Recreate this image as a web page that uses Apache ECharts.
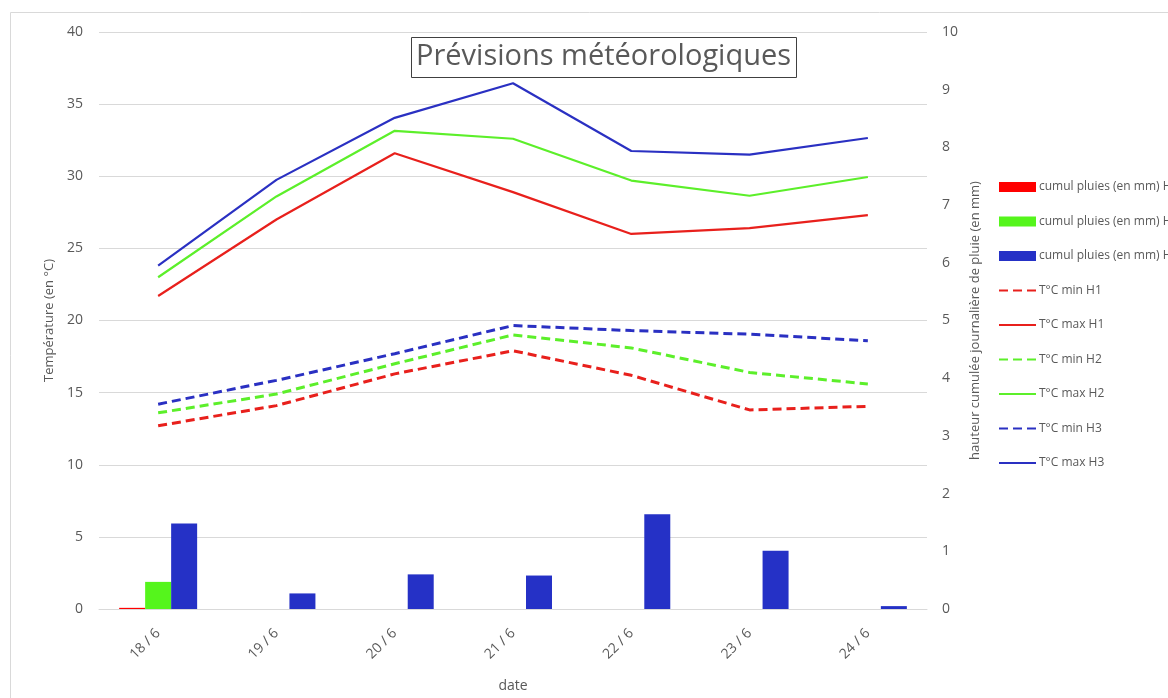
<!DOCTYPE html>
<html><head><meta charset="utf-8">
<script src="https://cdn.jsdelivr.net/npm/echarts@6/dist/echarts.min.js"></script>
<style>html,body{margin:0;padding:0;background:#fff}#c{width:1168px;height:698px}</style>
</head><body><div id="c"></div>
<script>
const categories = ["18 / 6","19 / 6","20 / 6","21 / 6","22 / 6","23 / 6","24 / 6"];
const pluieH1 = [0.02, 0, 0, 0, 0, 0, 0];
const pluieH2 = [0.47, 0, 0, 0, 0, 0, 0];
const pluieH3 = [1.48, 0.27, 0.6, 0.58, 1.64, 1.01, 0.05];
const tminH1 = [12.7, 14.1, 16.3, 17.9, 16.2, 13.8, 14.05];
const tmaxH1 = [21.7, 27.0, 31.6, 28.9, 26.0, 26.4, 27.3];
const tminH2 = [13.6, 14.9, 17.0, 19.0, 18.1, 16.4, 15.6];
const tmaxH2 = [23.0, 28.6, 33.15, 32.6, 29.7, 28.65, 29.95];
const tminH3 = [14.2, 15.85, 17.7, 19.65, 19.3, 19.05, 18.6];
const tmaxH3 = [23.8, 29.75, 34.05, 36.45, 31.75, 31.5, 32.65];
const leftTicks = {min:0, max:40, interval:5};
const rightTicks = {min:0, max:10, interval:1};
const barNames = ['cumul pluies (en mm) H1','cumul pluies (en mm) H2','cumul pluies (en mm) H3'];
const lineNames = ['T°C min H1','T°C max H1','T°C min H2','T°C max H2','T°C min H3','T°C max H3'];

const RED='#e8201c', GREEN='#5cef2a', BLUE='#2a30c2';
const txt='#595959';
const font='"Open Sans", "Noto Sans", sans-serif';
function line(name, data, color, dashed){
  return {name, type:'line', yAxisIndex:0, data, symbol:'none', smooth:false,
    lineStyle:{color, width: dashed?3:2.2, type: dashed?[9,5]:'solid'}, itemStyle:{color}, z:3};
}
function bar(name, data, color){
  return {name, type:'bar', yAxisIndex:1, data, barWidth:26, barGap:'0%', itemStyle:{color}, z:2};
}
const legendData = barNames.map(n=>({name:n, icon:'rect'})).concat(lineNames.map(n=>({name:n, itemStyle:{opacity:0}})));
const chart = echarts.init(document.getElementById('c'));
chart.setOption({
  animation:false,
  textStyle:{fontFamily:font},
  graphic:[{type:'rect', shape:{x:10.5,y:12.5,width:1200,height:720}, style:{fill:'none', stroke:'#d9d9d9', lineWidth:1}, silent:true, z:-10}],
  title:{text:'Prévisions météorologiques', left:411, top:37, borderColor:'#404040', borderWidth:1, padding:[5,6,7,5],
    textStyle:{fontSize:29, fontWeight:'normal', color:txt, fontFamily:font}},
  legend:{orient:'vertical', left:993, top:176, itemGap:22.5, itemWidth:37, itemHeight:10,
    textStyle:{color:txt, fontSize:12, fontFamily:font, padding:[0,0,0,-2]},
    data:legendData},
  grid:{left:99, right:241, top:32, bottom:88, containLabel:false},
  xAxis:{type:'category', data:categories, name:'date', nameLocation:'middle', nameGap:70,
    nameTextStyle:{color:txt, fontSize:14},
    axisLine:{lineStyle:{color:'#d9d9d9'}}, axisTick:{show:false},
    axisLabel:{rotate:45, color:txt, fontSize:14, margin:22}},
  yAxis:[
    {type:'value', min:leftTicks.min, max:leftTicks.max, interval:leftTicks.interval, name:'Température (en °C)', nameLocation:'middle', nameGap:29,
      nameTextStyle:{color:txt, fontSize:13}, axisLabel:{color:txt, fontSize:14, margin:16},
      axisLine:{show:false}, axisTick:{show:false}, splitLine:{lineStyle:{color:'#d9d9d9'}}},
    {type:'value', min:rightTicks.min, max:rightTicks.max, interval:rightTicks.interval, name:'hauteur cumulée journalière de pluie (en mm)', nameLocation:'middle', nameGap:38,
      nameTextStyle:{color:txt, fontSize:13}, axisLabel:{color:txt, fontSize:14, margin:15},
      axisLine:{show:false}, axisTick:{show:false}, splitLine:{show:false}}
  ],
  series:[
    bar(barNames[0], pluieH1, '#ff0000'),
    bar(barNames[1], pluieH2, '#55f51c'),
    bar(barNames[2], pluieH3, '#2531c6'),
    line(lineNames[0], tminH1, RED, true),
    line(lineNames[1], tmaxH1, RED, false),
    line(lineNames[2], tminH2, GREEN, true),
    line(lineNames[3], tmaxH2, GREEN, false),
    line(lineNames[4], tminH3, BLUE, true),
    line(lineNames[5], tmaxH3, BLUE, false)
  ]
});
</script></body></html>
